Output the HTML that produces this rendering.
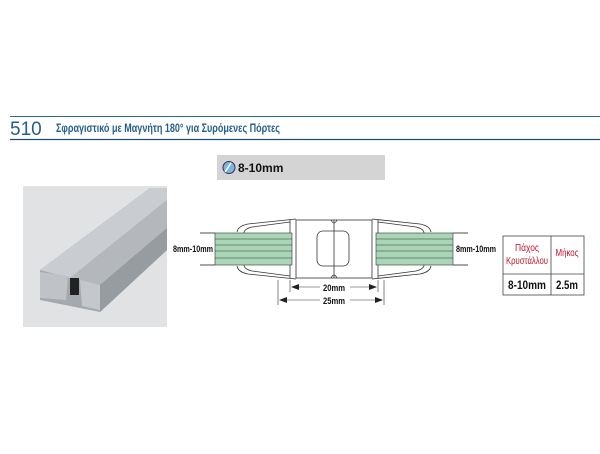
<!DOCTYPE html>
<html><head><meta charset="utf-8"><style>
body{margin:0;width:600px;height:449px;background:#fff;overflow:hidden;font-family:"Liberation Sans",sans-serif}
</style></head><body>
<svg width="600" height="449" viewBox="0 0 600 449" xmlns="http://www.w3.org/2000/svg" font-family="Liberation Sans, DejaVu Sans, sans-serif">
<line x1="10" y1="116.5" x2="600" y2="116.5" stroke="#2b6a94" stroke-width="1"/>
<line x1="10" y1="139.5" x2="600" y2="139.5" stroke="#1f4f74" stroke-width="1.2"/>
<text x="10" y="135" font-size="19" fill="#245f8a">510</text>
<text x="56" y="132" font-size="12" fill="#245f8a" font-weight="bold" textLength="224" lengthAdjust="spacingAndGlyphs">Σφραγιστικό με Μαγνήτη 180° για Συρόμενες Πόρτες</text>
<rect x="217" y="155" width="168" height="25" fill="#d4d4d4"/>
<circle cx="229" cy="167.5" r="6" fill="#7fb2df" stroke="#335" stroke-width="1"/>
<line x1="225" y1="172" x2="231" y2="163" stroke="#fff" stroke-width="1.5"/>
<text x="238" y="172" font-size="12" font-weight="bold" fill="#111">8-10mm</text>
<rect x="23" y="186" width="144" height="141" fill="#e0e2e4"/>
<polygon points="40,270 150,188 167,188 167,250 100,312 40,300" fill="#a4a9ae"/>
<polygon points="40,270 150,188 167,188 167,200 70,278" fill="#c9cdd1"/>
<polygon points="70,278 167,200 167,228 100,285" fill="#b4b8bc"/>
<polygon points="100,285 167,228 167,250 100,312" fill="#979ca1"/>
<polygon points="40,272 68,276 66,300 40,298" fill="#bfc3c7"/>
<polygon points="80,280 100,285 100,310 82,306" fill="#c4c8cc"/>
<rect x="70" y="278" width="9" height="17" fill="#222"/>
<g stroke="#222" stroke-width="0.8">
<line x1="200" y1="233" x2="215" y2="233"/><line x1="200" y1="265" x2="215" y2="265"/>
<line x1="453" y1="233" x2="468" y2="233"/><line x1="453" y1="265" x2="468" y2="265"/>
</g>
<g fill="none" stroke="#333" stroke-width="0.8">
<path d="M296,219 L248,224 Q238,226 237,232 M296,279 L248,274 Q238,272 237,266"/>
<path d="M290,222 L252,227 Q244,229 244,233 M290,276 L252,271 Q244,269 244,265"/>
<path d="M372,219 L420,224 Q430,226 431,232 M372,279 L420,274 Q430,272 431,266"/>
<path d="M378,222 L416,227 Q424,229 424,233 M378,276 L416,271 Q424,269 424,265"/>
<rect x="296" y="220" width="76" height="58"/>
<line x1="334" y1="220" x2="334" y2="278"/>
<path d="M331,220 Q334,226 337,220 M331,278 Q334,272 337,278"/>
<rect x="317" y="231" width="32" height="35" rx="6"/>
<line x1="290" y1="220" x2="290" y2="278"/><line x1="378" y1="220" x2="378" y2="278"/>
</g>
<g stroke="#333" stroke-width="0.6" fill="#a9d6b6">
<rect x="215" y="233" width="77" height="32"/>
<rect x="376" y="233" width="77" height="32"/>
</g>
<g stroke="#333" stroke-width="0.6">
<line x1="215" y1="239" x2="292" y2="239"/><line x1="215" y1="245" x2="292" y2="245"/><line x1="215" y1="251" x2="292" y2="251"/><line x1="215" y1="258" x2="292" y2="258"/>
<line x1="376" y1="239" x2="453" y2="239"/><line x1="376" y1="245" x2="453" y2="245"/><line x1="376" y1="251" x2="453" y2="251"/><line x1="376" y1="258" x2="453" y2="258"/>
<line x1="290" y1="280" x2="290" y2="292"/><line x1="378" y1="280" x2="378" y2="292"/>
<line x1="278" y1="280" x2="278" y2="305"/><line x1="384" y1="280" x2="384" y2="305"/>
<line x1="296" y1="287" x2="320" y2="287"/><line x1="350" y1="287" x2="372" y2="287"/>
<line x1="284" y1="300" x2="320" y2="300"/><line x1="350" y1="300" x2="378" y2="300"/>
</g>
<g fill="#222">
<polygon points="291,287 299,284 299,290"/><polygon points="377,287 369,284 369,290"/>
<polygon points="279,300 287,297 287,303"/><polygon points="383,300 375,297 375,303"/>
</g>
<text x="334" y="291" font-size="9" font-weight="bold" text-anchor="middle" fill="#111" textLength="22" lengthAdjust="spacingAndGlyphs">20mm</text>
<text x="334" y="304" font-size="9" font-weight="bold" text-anchor="middle" fill="#111" textLength="22" lengthAdjust="spacingAndGlyphs">25mm</text>
<text x="173" y="252" font-size="9" fill="#111" font-weight="bold" textLength="40" lengthAdjust="spacingAndGlyphs">8mm-10mm</text>
<text x="456" y="252" font-size="9" fill="#111" font-weight="bold" textLength="40" lengthAdjust="spacingAndGlyphs">8mm-10mm</text>
<g stroke="#444" stroke-width="0.8" fill="none">
<rect x="503" y="236" width="81" height="59"/>
<line x1="503" y1="274" x2="584" y2="274"/>
<line x1="551" y1="236" x2="551" y2="295"/>
</g>
<text x="527" y="251" font-size="10" fill="#c0142a" text-anchor="middle" textLength="24" lengthAdjust="spacingAndGlyphs">Πάχος</text>
<text x="527" y="264" font-size="10" fill="#c0142a" text-anchor="middle" textLength="42" lengthAdjust="spacingAndGlyphs">Κρυστάλλου</text>
<text x="567" y="256" font-size="10" fill="#c0142a" text-anchor="middle" textLength="23" lengthAdjust="spacingAndGlyphs">Μήκος</text>
<text x="527" y="289" font-size="12" font-weight="bold" fill="#111" text-anchor="middle" textLength="38" lengthAdjust="spacingAndGlyphs">8-10mm</text>
<text x="567" y="289" font-size="12" font-weight="bold" fill="#111" text-anchor="middle" textLength="22" lengthAdjust="spacingAndGlyphs">2.5m</text>
</svg>
</body></html>
